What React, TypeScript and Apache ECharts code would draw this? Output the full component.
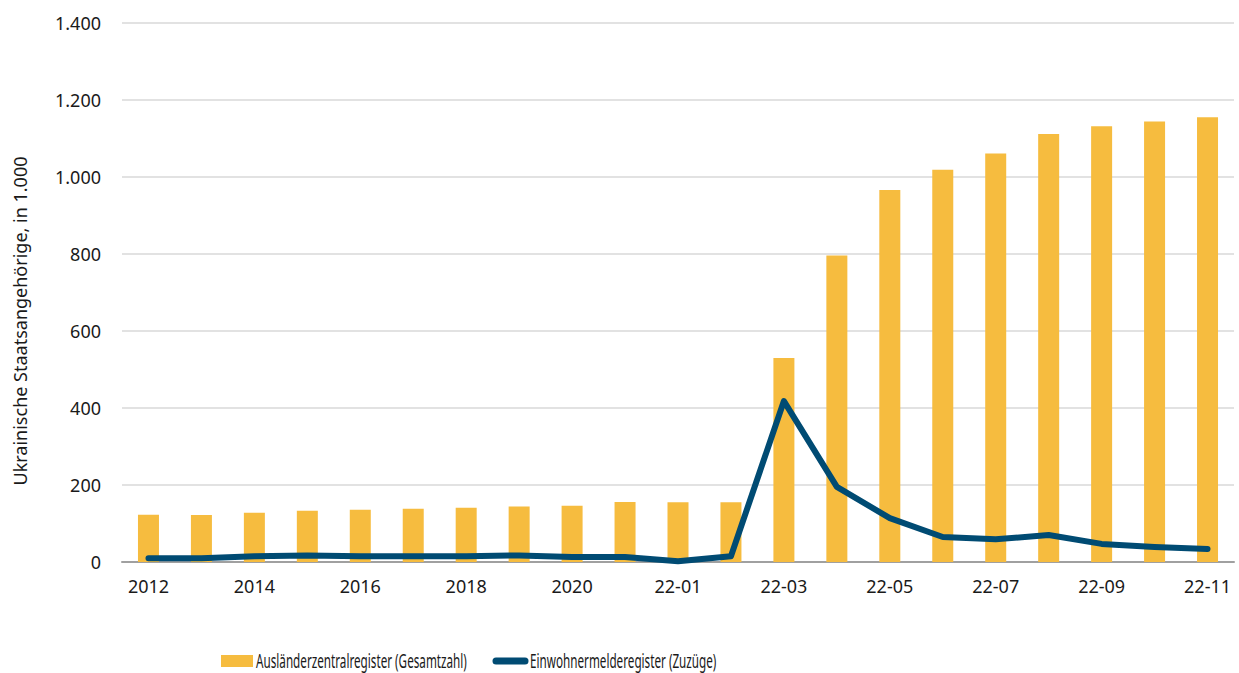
import React, { useEffect, useRef } from "react";
import * as echarts from "echarts";

const categories = [
  "2012", "2013", "2014", "2015", "2016", "2017", "2018", "2019", "2020", "2021",
  "22-01", "22-02", "22-03", "22-04", "22-05", "22-06", "22-07", "22-08", "22-09", "22-10", "22-11",
];
const azrValues = [123, 122, 128, 133, 136, 138, 141, 144, 146, 156, 155, 155, 530, 796, 966, 1019, 1061, 1112, 1132, 1144, 1155];
const ewmValues = [10, 10, 15, 17, 15, 15, 15, 17, 13, 13, 2, 15, 418, 195, 114, 65, 59, 70, 47, 39, 34];
const yTicks = { min: 0, max: 1400, interval: 200 };

const barName = "Ausländerzentralregister (Gesamtzahl)";
const lineName = "Einwohnermelderegister (Zuzüge)";
const yTitle = "Ukrainische Staatsangehörige, in 1.000";

const FONT = "'Noto Sans', 'Open Sans', sans-serif";
const BAR_COLOR = "#F6BC3F";
const LINE_COLOR = "#004B73";
const TEXT_COLOR = "#1a1a1a";

export default function App() {
  const ref = useRef<HTMLDivElement>(null);
  useEffect(() => {
    document.body.style.margin = "0";
    const chart = echarts.init(ref.current!, null, { renderer: "svg" });
    const legendY = 660;
    const legendText = (text: string, x: number) => ({
      type: "text",
      x,
      y: legendY,
      scaleX: 0.585,
      style: {
        text,
        fontSize: 20,
        fontFamily: FONT,
        fill: TEXT_COLOR,
        align: "left",
        verticalAlign: "middle",
      },
    });
    chart.setOption({
      animation: false,
      backgroundColor: "#ffffff",
      textStyle: { fontFamily: FONT },
      grid: { left: 122, right: 5, top: 23, bottom: 111 },
      legend: { show: false, data: [barName, lineName] },
      graphic: [
        {
          type: "text",
          x: 20,
          y: 321,
          rotation: Math.PI / 2,
          style: {
            text: yTitle,
            fontSize: 18,
            fontFamily: FONT,
            fill: TEXT_COLOR,
            align: "center",
            verticalAlign: "middle",
          },
        },
        {
          type: "group",
          children: [
            {
              type: "rect",
              shape: { x: 221, y: legendY - 5, width: 32, height: 12 },
              style: { fill: BAR_COLOR },
            },
            legendText(barName, 256),
            {
              type: "line",
              shape: { x1: 496, y1: legendY + 1, x2: 525, y2: legendY + 1 },
              style: { stroke: LINE_COLOR, lineWidth: 7, lineCap: "round" },
            },
            legendText(lineName, 530),
          ],
        },
      ],
      xAxis: {
        type: "category",
        data: categories,
        axisTick: { show: false },
        axisLine: { lineStyle: { color: "#a0a0a0", width: 2 } },
        axisLabel: { interval: 1, fontSize: 18, color: TEXT_COLOR, margin: 15 },
      },
      yAxis: {
        type: "value",
        min: yTicks.min,
        max: yTicks.max,
        interval: yTicks.interval,
        axisLine: { show: false },
        axisTick: { show: false },
        splitLine: { lineStyle: { color: "#d9d9d9", width: 1.5 } },
        axisLabel: {
          fontSize: 18,
          color: TEXT_COLOR,
          margin: 21,
          formatter: (v: number) => v.toLocaleString("de-DE"),
        },
      },
      series: [
        {
          name: barName,
          type: "bar",
          data: azrValues,
          barWidth: 21,
          itemStyle: { color: BAR_COLOR },
        },
        {
          name: lineName,
          type: "line",
          data: ewmValues,
          symbol: "none",
          showSymbol: false,
          lineStyle: { color: LINE_COLOR, width: 6, cap: "round", join: "round" },
          itemStyle: { color: LINE_COLOR },
        },
      ],
    });
    return () => chart.dispose();
  }, []);
  return <div ref={ref} style={{ width: 1239, height: 673 }} />;
}
